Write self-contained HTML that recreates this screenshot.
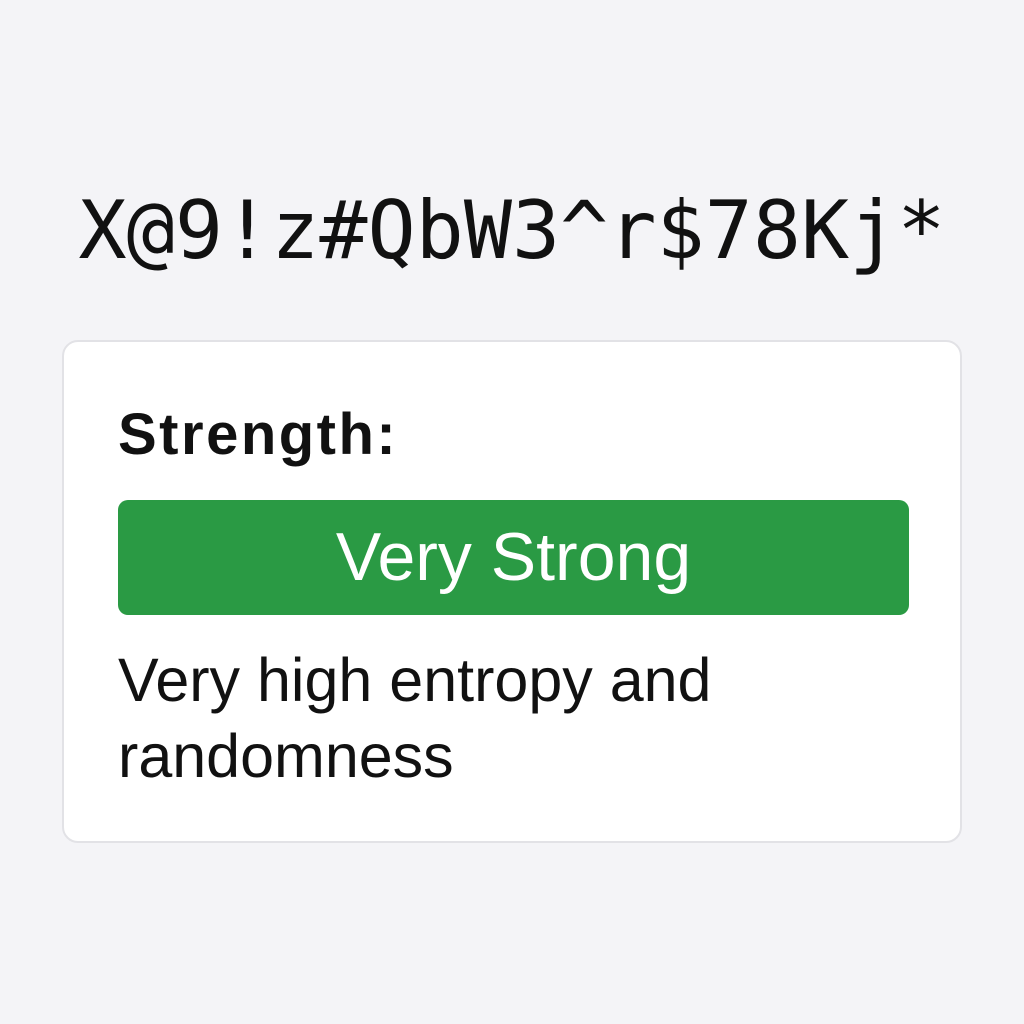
<!DOCTYPE html>
<html><head><style>
html,body{margin:0;padding:0;width:1024px;height:1024px;background:#f4f4f7;overflow:hidden}
.pw{position:absolute;left:0;width:1024px;top:186px;text-align:center;font-family:"DejaVu Sans Mono","Liberation Mono",monospace;font-size:80px;line-height:90px;color:#111;letter-spacing:0px}
.card{position:absolute;left:62px;top:340px;width:900px;height:503px;background:#fff;border:2px solid #e2e2e6;border-radius:16px;box-sizing:border-box}
.lab{position:absolute;left:118px;top:402px;font-family:"Liberation Sans",sans-serif;font-weight:bold;font-size:58px;line-height:66px;color:#111;letter-spacing:2.5px}
.bar{position:absolute;left:118px;top:500px;width:791px;height:115px;background:#2a9a44;border-radius:10px;color:#fff;font-family:"Liberation Sans",sans-serif;font-size:68px;line-height:115px;text-align:center}
.desc{position:absolute;left:118px;top:642px;font-family:"Liberation Sans",sans-serif;font-size:61px;line-height:76px;color:#111}
</style></head><body>
<div class="pw">X@9!z#QbW3^r$78Kj*</div>
<div class="card"></div>
<div class="lab">Strength:</div>
<div class="bar">Very Strong</div>
<div class="desc">Very high entropy and<br>randomness</div>
</body></html>
